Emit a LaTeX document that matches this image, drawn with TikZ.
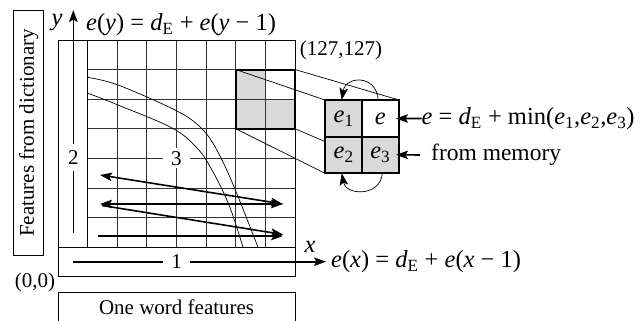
\documentclass[tikz,border=0pt]{standalone}
\usepackage{fontspec}
\setmainfont{Liberation Serif}
\usetikzlibrary{arrows.meta}
\begin{document}
\begin{tikzpicture}[x=1pt,y=-1pt,
  every node/.style={font=\fontsize{21}{25}\selectfont,inner sep=0pt},
  eqfont/.style={font=\fontsize{24.5}{28}\selectfont},
  gridline/.style={line width=0.8pt,black!80},
  border/.style={line width=0.9pt,black},
  thickbox/.style={line width=2pt,black},
  cellfill/.style={fill=black!15},
  thinline/.style={line width=0.7pt,black},
  bigtip/.style={-{Stealth[length=12pt,width=8.5pt,inset=2.5pt]}},
  bothtip/.style={{Stealth[length=12pt,width=8.5pt,inset=2.5pt]}-{Stealth[length=12pt,width=8.5pt,inset=2.5pt]}},
  scanarrow/.style={line width=1.6pt},
  axisline/.style={line width=1.6pt},
  gaplabel/.style={fill=white,inner xsep=8pt,inner ysep=3pt},
  cellnode/.style={minimum width=37pt,minimum height=36.65pt,inner sep=0pt,font=\fontsize{24.5}{28}\selectfont}]
\useasboundingbox (0,0) rectangle (641,321);

% gray cells of the highlighted block
\fill[cellfill] (235.8,69.6) rectangle (265.5,128.8);
\fill[cellfill] (265.5,99.2) rectangle (295.2,128.8);

% grid
\foreach \cx in {117.0,146.7,176.4,206.1,235.8,265.5}
  \draw[gridline] (\cx,40) -- (\cx,247.2);
\foreach \ry in {69.6,99.2,128.8,158.4,188.0,217.6}
  \draw[gridline] (87.3,\ry) -- (295.2,\ry);
\draw[border] (87.3,40) -- (87.3,247.2);
\draw[border] (58,247.2) -- (295.2,247.2);
\draw[border] (58,40) rectangle (295.2,276.8);

% band of the warping path
\draw[thinline] plot[smooth,tension=0.6] coordinates {(87.3,77.3) (118,85) (175,110) (199,126) (214,145) (232,182) (258,247.2)};
\draw[thinline] plot[smooth,tension=0.6] coordinates {(87.3,93) (118,105) (172,128) (197,148) (212,170) (229,205) (243,247.2)};

% label 3 on the grid
\node[gaplabel] (three) at (176.4,158.4) {3};

% highlighted block
\draw[thickbox] (235.8,69.6) rectangle (295.2,128.8);
\coordinate (hTL) at (235.8,69.6);
\coordinate (hTR) at (295.2,69.6);
\coordinate (hBL) at (235.8,128.8);
\coordinate (hBR) at (295.2,128.8);

% zoomed block
\coordinate (zTL) at (325,100);
\coordinate (zTR) at (399,100);
\coordinate (zBL) at (325,173.3);
\coordinate (zBR) at (399,173.3);
\draw[thinline] (hTL) -- (zTL);
\draw[thinline] (hTR) -- (zTR);
\draw[thinline] (hBL) -- (zBL);
\draw[thinline] (hBR) -- (zBR);

\node[cellnode,cellfill,anchor=north west] (ce1) at (zTL) {\textit{e}\textsubscript{1}};
\node[cellnode,fill=white,anchor=north east] (ce) at (zTR) {\textit{e}};
\node[cellnode,cellfill,anchor=south west] (ce2) at (zBL) {\textit{e}\textsubscript{2}};
\node[cellnode,cellfill,anchor=south east] (ce3) at (zBR) {\textit{e}\textsubscript{3}};
\draw[thickbox] (zTL) rectangle (zBR);
\draw[thickbox] (ce1.north east) -- (ce2.south east);
\draw[thickbox] (ce1.south west) -- (ce.south east);

% curved arrows round the zoomed block
\draw[thinline,bigtip] (ce.north) ++(-2,0) .. controls +(-2,-26) and +(4,-24) .. ([xshift=-2pt]ce1.north);
\draw[thinline,bigtip] (ce3.south) ++(2,0) .. controls +(-2,24) and +(4,22) .. ([xshift=-2pt]ce2.south);

% formulas at the zoomed block
\node[eqfont,anchor=west] (eeq) at (421.5,118.5) {\textit{e} = \textit{d}\textsubscript{E} + min(\textit{e}\textsubscript{1},\textit{e}\textsubscript{2},\textit{e}\textsubscript{3})};
\node[font=\fontsize{23.5}{27}\selectfont,anchor=west] (mem) at (431,155) {from memory};
\draw[axisline,bigtip] (eeq.west) -- ([xshift=-3pt]ce.east);
\draw[axisline,bigtip] ([xshift=-11pt]mem.west) -- ([xshift=-3pt]ce3.east);

% scan arrows
\draw[scanarrow,bigtip] (98,236) -- (283,236);
\draw[scanarrow,bigtip] (102,205.5) -- (283,234.5);
\draw[scanarrow,bothtip] (100,204) -- (283,204);
\draw[scanarrow,bothtip] (100,175) -- (283,204);

% y axis
\coordinate (ybot) at (73.3,233);
\coordinate (ytip) at (73.3,10);
\node[fill=white,inner xsep=3pt,inner ysep=6pt] (two) at (73.3,157.5) {2};
\draw[axisline] (ybot) -- (two.south);
\draw[axisline,bigtip] (two.north) -- (ytip);
\node[eqfont] (ylab) at (57,23) {\textit{y}};
\node[eqfont,anchor=west] (yeq) at (86,25) {\textit{e}(\textit{y}) = \textit{d}\textsubscript{E} + \textit{e}(\textit{y} − 1)};

% x axis
\coordinate (xstart) at (72.7,261.7);
\coordinate (xtip) at (326,261.7);
\node[fill=white,inner xsep=8pt,inner ysep=3pt] (one) at (176.7,261.7) {1};
\draw[axisline] (xstart) -- (one.west);
\draw[axisline,bigtip] (one.east) -- (xtip);
\node[eqfont] (xlab) at (310,247) {\textit{x}};
\node[eqfont,anchor=west] (xeq) at (331,262) {\textit{e}(\textit{x}) = \textit{d}\textsubscript{E} + \textit{e}(\textit{x} − 1)};

% corner labels
\node (origin) at (35,282) {(0,0)};
\node (corner) at (341,50) {(127,127)};

% feature boxes
\node[draw,line width=0.9pt,minimum width=30pt,minimum height=245pt,anchor=north west] (dictbox) at (13.3,10) {};
\node[rotate=90] (dict) at (dictbox.center) {Features from dictionary};
\draw[border] (58,325) -- (58,292.7) -- (295.2,292.7) -- (295.2,325);
\node (word) at (176.6,307) {One word features};
\end{tikzpicture}
\end{document}
